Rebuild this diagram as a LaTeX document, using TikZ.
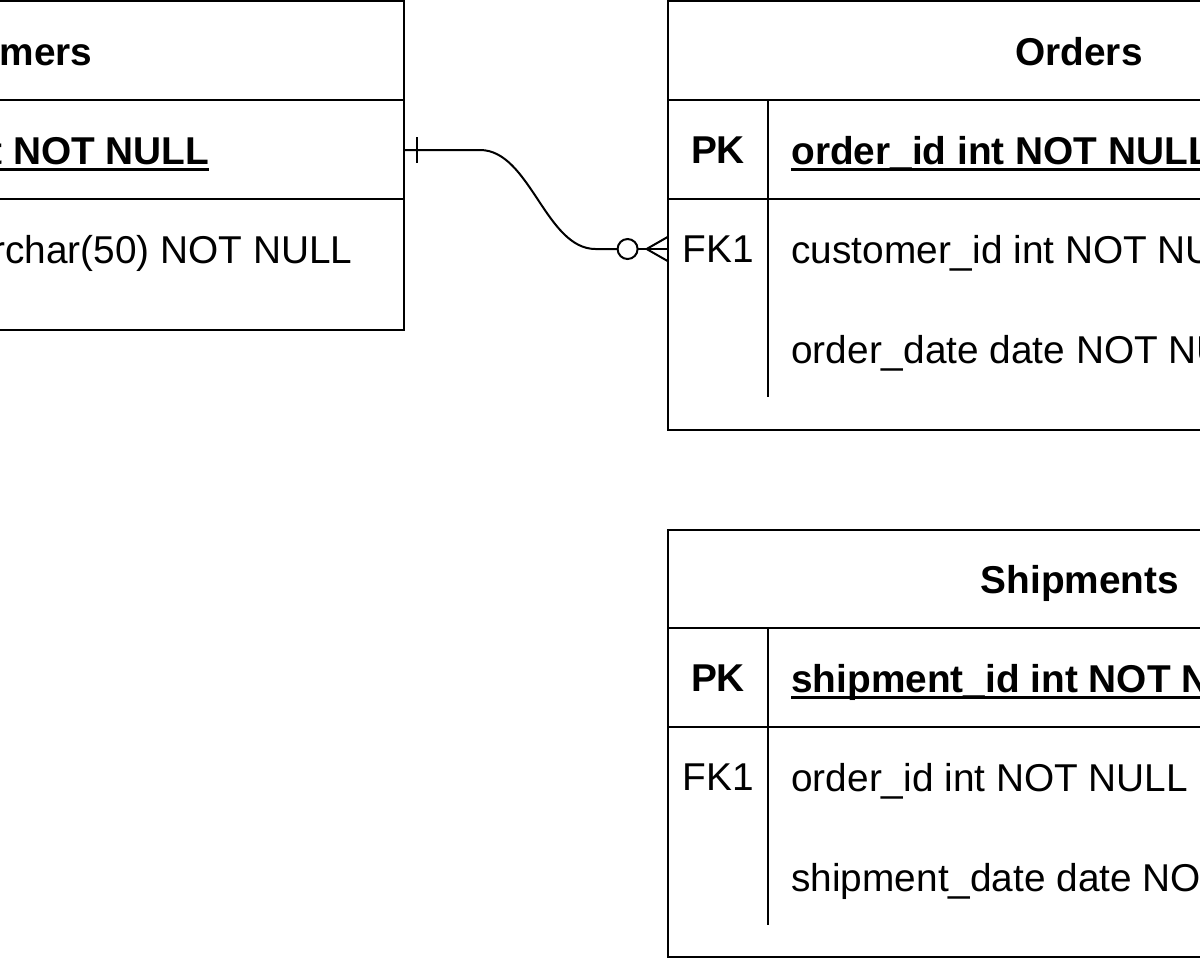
\documentclass[tikz,border=0pt]{standalone}
\usepackage{fontspec}
\setmainfont{Liberation Sans}
\usetikzlibrary{calc}

\newcommand{\erfont}{\fontsize{19.4pt}{23pt}\selectfont}
\newsavebox{\pkbox}
\newcommand{\pkline}[1]{\sbox{\pkbox}{#1}\rlap{\rule[-0.17em]{\wd\pkbox}{0.055em}}\usebox{\pkbox}}

\begin{document}
\begin{tikzpicture}[
  x=0.5pt,
  y=-0.5pt,
  line join=miter,
  tableline/.style={draw=black,line width=1.3pt},
  colline/.style={draw=black,line width=1.2pt},
  link/.style={draw=black,line width=1pt},
  tabletitle/.style={font=\erfont\bfseries,anchor=base,inner sep=0pt},
  keycell/.style={font=\erfont,minimum width=50pt,inner sep=0pt},
  pkfield/.style={font=\erfont\bfseries,anchor=base west,inner sep=0pt},
  field/.style={font=\erfont,anchor=base west,inner sep=0pt}
]
  \useasboundingbox (0,0) rectangle (1200,960);
  \clip (0,0) rectangle (1200,960);

  % Customers table, mostly outside the visible window.
  \draw[tableline] (-460,1) rectangle (404,330);
  \draw[tableline] (-460,100) -- (404,100);
  \draw[tableline] (-460,199) -- (404,199);
  \node[tabletitle] (custtitle) at (-9,65) {Customers};
  \node[pkfield] (custpk) at (-287,164) {\pkline{customer\_id int NOT NULL}};
  \node[field] (custname) at (-338,263) {customer\_name varchar(50) NOT NULL};

  % Orders table.
  \draw[tableline] (668,1) rectangle (1490,430);
  \draw[tableline] (668,100) -- (1490,100);
  \draw[tableline] (668,199) -- (1490,199);
  \draw[colline] (768,100) -- (768,397);
  \node[tabletitle] (ordtitle) at (1079,65) {Orders};
  \node[keycell,font=\erfont\bfseries] (ordpkkey) at (718,150) {PK};
  \node[pkfield] (ordpk) at (791,164) {\pkline{order\_id int NOT NULL}};
  \node[keycell] (ordfkkey) at (718,249) {FK1};
  \node[field] (ordfk) at (791,263) {customer\_id int NOT NULL};
  \node[field] (orddate) at (791,363) {order\_date date NOT NULL};

  % Shipments table.
  \draw[tableline] (668,530) rectangle (1490,957);
  \draw[tableline] (668,628) -- (1490,628);
  \draw[tableline] (668,727) -- (1490,727);
  \draw[colline] (768,628) -- (768,925);
  \node[tabletitle] (shiptitle) at (1080,593) {Shipments};
  \node[keycell,font=\erfont\bfseries] (shippkkey) at (718,678) {PK};
  \node[pkfield] (shippk) at (791,692) {\pkline{shipment\_id int NOT NULL}};
  \node[keycell] (shipfkkey) at (718,777) {FK1};
  \node[field] (shipfk) at (791,791) {order\_id int NOT NULL};
  \node[field] (shipdate) at (791,891) {shipment\_date date NOT NULL};

  % One customer to zero or many orders.
  \coordinate (custedge) at (404,150);
  \draw[link] (custedge) -- ++(76,0) .. controls +(50,0) and +(-50,0) .. ($(ordfkkey.west)+(-72,0)$) -- ($(ordfkkey.west)+(-50,0)$);
  \draw[link] ($(custedge)+(13,-13)$) -- ($(custedge)+(13,13)$);
  \draw[link] ($(ordfkkey.west)+(-40,0)$) circle[radius=10];
  \draw[link] ($(ordfkkey.west)+(-30,0)$) -- (ordfkkey.west);
  \foreach \dy in {-12,12} {
    \draw[link] ($(ordfkkey.west)+(-21,0)$) -- ($(ordfkkey.west)+(0,\dy)$);
  }
\end{tikzpicture}
\end{document}
